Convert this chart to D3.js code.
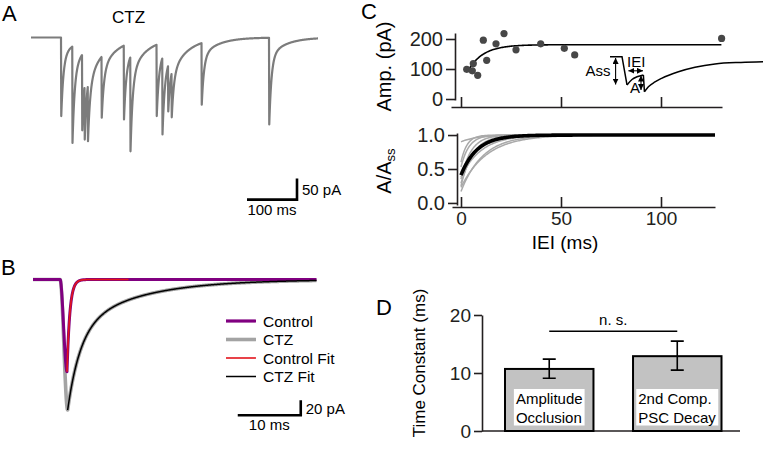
<!DOCTYPE html>
<html><head><meta charset="utf-8">
<script src="https://cdn.jsdelivr.net/npm/d3@7"></script>
<style>
html,body{margin:0;padding:0;background:#fff;}
svg{display:block;font-family:"Liberation Sans",Arial,Helvetica,sans-serif;}
</style></head><body>
<svg id="fig" width="763" height="456"></svg>
<script>
// ================= DATA =================
// Panel A: CTZ recording, event onset times (ms) and visible peak current (pA)
const aEventTimes = [60.5, 83, 102.5, 107.5, 114, 141.5, 186, 199, 251.5, 263, 274.5, 281.5, 341.5, 476.5];
const aEventPeaks = [-187, -251, -221, -243, -247, -191, -195, -271, -187, -231, -176, -190, -160, -207];
const aDecay = { fastTau: 4.5, slowTau: 32, fastWeight: 0.78 };
const aDuration = 574;                 // ms
const aScaleBarTime = [432, 532];      // ms (100 ms)
const aScaleBarAmp = [-386, -336];     // pA (50 pA)

// Panel B: averaged PSCs (ms, pA) and exponential fits
const bDuration = 45;
const bControl = { onset: 4.3, rise: 1.1, peak: -123, tau: 0.45 };
const bCTZ = { onset: 4.3, rise: 1.2, peak: -174, tau1: 2.0, w1: 0.6, tau2: 10.0 };
const bControlFitEnd = 15.2;
const bScaleBarTime = [32.5, 42.5];    // 10 ms
const bScaleBarAmp = [-181, -161];     // 20 pA
const bLegendLabels = ["Control", "CTZ", "Control Fit", "CTZ Fit"];

// Panel C (top): amplitude vs inter-event interval
const cIEI = [2.85, 5.65, 6.15, 8.35, 11.15, 12.85, 17.5, 21.5, 27.5, 39.85, 51.65, 56.85, 130.3];
const cAmp = [99, 94, 118, 79, 196, 129, 184, 218, 164, 184, 169, 147, 202];
const cFit = { start: 3.2, a0: 90, aInf: 181, tau: 7.5, end: 130.3 };
const cAmpTicks = [0, 100, 200];
const cIEITicks = [0, 50, 100];
// schematic inset (IEI units, pA units)
const insetSeg1 = [[74.5, 141], [80.5, 141], [83, 47]];
const insetSeg2 = [[83, 47], [85.5, 65], [88, 74], [91.2, 80]];
const insetSeg3 = [[91.2, 80], [91.7, 24]];
const insetSeg4 = [[91.7, 24], [93.7, 41], [97, 57], [100.3, 69], [108.7, 91], [117, 106], [127, 117], [140, 122], [151, 124]];
const insetArrowAss = [[77.3, 137], [77.3, 48]];
const insetArrowIEI = [[83.7, 94], [91, 94]];
const insetArrowA = [[90, 78], [90, 30]];

// Panel C (bottom): normalized recovery A/Ass, individual fits and mean
const grayStart = [0.90, 0.17, 0.23, 0.29, 0.35, 0.46, 0.53, 0.25, 0.38, 0.60];
const grayTau = [8, 11, 13, 7, 5, 9, 4, 6, 10, 3];
const meanStart = 0.41, meanTau = 8;
const cNormTicks = [0, 0.5, 1.0];
const cCurveEnd = 127;

// Panel D: time constants
const dCategories = ["Amplitude Occlusion", "2nd Comp. PSC Decay"];
const dLabelLines = [["Amplitude", "Occlusion"], ["2nd Comp.", "PSC Decay"]];
const dValues = [10.7, 12.9];
const dErrLow = [9.1, 10.5];
const dErrHigh = [12.4, 15.5];
const dTicks = [0, 10, 20];
const dSigLevel = 17.2;

// ================= DRAW =================
const svg = d3.select("#fig");
const FONT = '"Liberation Sans",Arial,Helvetica,sans-serif';
const AX = "#231f20";

function styleAxis(g, fs) {
  g.attr("font-size", null).attr("font-family", null);
  g.selectAll("path,line").attr("stroke", AX).attr("stroke-width", 1.6);
  g.selectAll("text").attr("font-size", fs).attr("font-family", FONT).attr("fill", AX);
}
function label(x, y, txt, fs, anchor) {
  return svg.append("text").attr("x", x).attr("y", y).attr("font-size", fs)
    .attr("text-anchor", anchor || "start").attr("fill", "#000").text(txt);
}

// panel letters
label(2, 21, "A", 22); label(1, 275, "B", 22); label(361, 19, "C", 22); label(376, 315, "D", 22);

// ---------- Panel A ----------
{
  const x = d3.scaleLinear().domain([0, aDuration]).range([31, 318]);
  const y = d3.scaleLinear().domain([0, -250]).range([37.5, 142.5]);
  const g = s => s < 0 ? 0 : aDecay.fastWeight * Math.exp(-s / aDecay.fastTau) + (1 - aDecay.fastWeight) * Math.exp(-s / aDecay.slowTau);
  const incs = [];
  aEventTimes.forEach((t, i) => {
    let resid = 0;
    for (let j = 0; j < i; j++) resid += incs[j] * g(t - aEventTimes[j]);
    incs.push(Math.min(0, aEventPeaks[i] - resid));
  });
  const pts = [];
  for (let t = 0; t <= aDuration + 1e-9; t += 0.5) {
    let v = 0;
    aEventTimes.forEach((te, j) => { v += incs[j] * g(t - te); });
    pts.push([t, v]);
  }
  svg.append("path").attr("d", d3.line().x(d => x(d[0])).y(d => y(d[1]))(pts))
    .attr("fill", "none").attr("stroke", "#7c7c7c").attr("stroke-width", 2.2).attr("stroke-linejoin", "round");
  label((x(0) + x(aDuration)) / 2 - 46, 23, "CTZ", 17, "middle");
  // scale bar
  svg.append("path").attr("d", `M${x(aScaleBarTime[0])},${y(aScaleBarAmp[0])}H${x(aScaleBarTime[1])}V${y(aScaleBarAmp[1])}`)
    .attr("fill", "none").attr("stroke", "#000").attr("stroke-width", 2.6);
  label(x(aScaleBarTime[1]) + 5, (y(aScaleBarAmp[0]) + y(aScaleBarAmp[1])) / 2 + 6, "50 pA", 15);
  label((x(aScaleBarTime[0]) + x(aScaleBarTime[1])) / 2, y(aScaleBarAmp[0]) + 15, "100 ms", 15, "middle");
}

// ---------- Panel B ----------
{
  const x = d3.scaleLinear().domain([0, bDuration]).range([33, 316.5]);
  const y = d3.scaleLinear().domain([0, -20]).range([279.5, 294.5]);
  const rise = (s, r) => { const u = Math.min(1, Math.max(0, s / r)); return u * u * (3 - 2 * u); };
  const ctrlPeakT = bControl.onset + bControl.rise, ctzPeakT = bCTZ.onset + bCTZ.rise;
  const ctrl = t => t < ctrlPeakT ? bControl.peak * rise(t - bControl.onset, bControl.rise)
    : bControl.peak * Math.exp(-(t - ctrlPeakT) / bControl.tau);
  const ctzDecay = s => bCTZ.w1 * Math.exp(-s / bCTZ.tau1) + (1 - bCTZ.w1) * Math.exp(-s / bCTZ.tau2);
  const ctz = t => t < ctzPeakT ? bCTZ.peak * rise(t - bCTZ.onset, bCTZ.rise) : bCTZ.peak * ctzDecay(t - ctzPeakT);
  const ts = d3.range(0, bDuration + 0.001, 0.05);
  const line = d3.line().x(d => x(d[0])).y(d => y(d[1]));
  svg.append("path").attr("d", line(ts.map(t => [t, ctz(t)]))).attr("fill", "none")
    .attr("stroke", "#a3a3a3").attr("stroke-width", 3.6).attr("stroke-linejoin", "round");
  svg.append("path").attr("d", line(ts.map(t => [t, ctrl(t)]))).attr("fill", "none")
    .attr("stroke", "#800080").attr("stroke-width", 3).attr("stroke-linejoin", "round");
  svg.append("path").attr("d", line(ts.filter(t => t >= ctzPeakT).map(t => [t, ctz(t)]))).attr("fill", "none")
    .attr("stroke", "#000").attr("stroke-width", 1.5);
  svg.append("path").attr("d", line(ts.filter(t => t >= ctrlPeakT && t <= bControlFitEnd).map(t => [t, ctrl(t)]))).attr("fill", "none")
    .attr("stroke", "#e3141b").attr("stroke-width", 1.6);
  // legend
  const lg = [{ c: "#800080", w: 3.2 }, { c: "#a3a3a3", w: 3.6 }, { c: "#e3141b", w: 1.6 }, { c: "#000", w: 1.5 }];
  const rows = [321, 339.5, 358, 376.5];
  bLegendLabels.forEach((lab, i) => {
    svg.append("line").attr("x1", 226).attr("x2", 256).attr("y1", rows[i]).attr("y2", rows[i])
      .attr("stroke", lg[i].c).attr("stroke-width", lg[i].w);
    label(263, rows[i] + 5.5, lab, 15.5);
  });
  // scale bar
  svg.append("path").attr("d", `M${x(bScaleBarTime[0])},${y(bScaleBarAmp[0])}H${x(bScaleBarTime[1])}V${y(bScaleBarAmp[1])}`)
    .attr("fill", "none").attr("stroke", "#000").attr("stroke-width", 2.6);
  label(x(bScaleBarTime[1]) + 5, (y(bScaleBarAmp[0]) + y(bScaleBarAmp[1])) / 2 + 6, "20 pA", 15);
  label((x(bScaleBarTime[0]) + x(bScaleBarTime[1])) / 2, y(bScaleBarAmp[0]) + 15, "10 ms", 15, "middle");
}

// ---------- Panel C top ----------
{
  const x = d3.scaleLinear().domain([-5, 130.5]).range([451, 722]);
  const y = d3.scaleLinear().domain([-3.3, 220]).range([100, 33]);
  const ya = svg.append("g").attr("transform", `translate(${x(-3)},0)`)
    .call(d3.axisLeft(y).tickValues(cAmpTicks).tickSize(9).tickSizeOuter(0).tickPadding(3));
  styleAxis(ya, 20);
  const xa = svg.append("g").attr("transform", "translate(0,107)")
    .call(d3.axisBottom(x).tickValues(cIEITicks).tickSize(-10).tickSizeOuter(0).tickFormat(""));
  styleAxis(xa, 20);
  svg.append("text").attr("transform", `translate(391,${(y(-3.3) + y(220)) / 2}) rotate(-90)`)
    .attr("text-anchor", "middle").attr("font-size", 20).text("Amp. (pA)");
  const ts = d3.range(cFit.start, cFit.end + 0.01, 0.5);
  svg.append("path").attr("d", d3.line().x(d => x(d)).y(d => y(cFit.aInf - (cFit.aInf - cFit.a0) * Math.exp(-(d - cFit.start) / cFit.tau)))(ts))
    .attr("fill", "none").attr("stroke", "#000").attr("stroke-width", 1.6);
  svg.selectAll("circle.pt").data(cIEI).enter().append("circle").attr("class", "pt")
    .attr("cx", d => x(d)).attr("cy", (d, i) => y(cAmp[i])).attr("r", 3.6).attr("fill", "#474747");
  // inset schematic
  const defs = svg.append("defs");
  defs.append("marker").attr("id", "ah").attr("viewBox", "0 0 8 8").attr("refX", 8).attr("refY", 4)
    .attr("markerWidth", 6).attr("markerHeight", 6).attr("markerUnits", "userSpaceOnUse")
    .attr("orient", "auto-start-reverse").append("path").attr("d", "M0,0L8,4L0,8z").attr("fill", "#000");
  const lin = d3.line().x(d => x(d[0])).y(d => y(d[1]));
  const mono = d3.line().x(d => x(d[0])).y(d => y(d[1])).curve(d3.curveMonotoneX);
  [[insetSeg1, lin], [insetSeg2, mono], [insetSeg3, lin], [insetSeg4, mono]].forEach(([s, f]) => {
    svg.append("path").attr("d", f(s)).attr("fill", "none").attr("stroke", "#000").attr("stroke-width", 1.5);
  });
  [insetArrowAss, insetArrowIEI, insetArrowA].forEach(a => {
    svg.append("path").attr("d", lin(a)).attr("stroke", "#000").attr("stroke-width", 1.1)
      .attr("marker-start", "url(#ah)").attr("marker-end", "url(#ah)");
  });
  svg.append("text").attr("x", x(74.8)).attr("y", y(77)).attr("text-anchor", "end").attr("font-size", 15).text("Ass");
  svg.append("text").attr("x", x(83)).attr("y", y(107)).attr("font-size", 15).text("IEI");
  svg.append("text").attr("x", x(84.5)).attr("y", y(20)).attr("font-size", 15).text("A");
}

// ---------- Panel C bottom ----------
{
  const x = d3.scaleLinear().domain([-4.5, 127]).range([452, 715]);
  const y = d3.scaleLinear().domain([-0.03, 1.03]).range([205, 133]);
  const ya = svg.append("g").attr("transform", `translate(457,0)`)
    .call(d3.axisLeft(y).tickValues(cNormTicks).tickFormat(d3.format(".1f")).tickSize(9).tickSizeOuter(0).tickPadding(3));
  styleAxis(ya, 20);
  const xa = svg.append("g").attr("transform", "translate(0,207)")
    .call(d3.axisBottom(x).tickValues(cIEITicks).tickSize(-10).tickSizeOuter(0).tickPadding(5));
  styleAxis(xa, 19);
  xa.selectAll("text").attr("dy", "0.71em");
  label((x(0) + x(127)) / 2 - 23, 249, "IEI (ms)", 19, "middle");
  const yl = svg.append("text").attr("transform", `translate(391,171) rotate(-90)`).attr("text-anchor", "middle").attr("font-size", 20);
  yl.append("tspan").text("A/A");
  yl.append("tspan").attr("font-size", 13).attr("dy", 4).text("ss");
  const ts = d3.range(0, cCurveEnd + 0.01, 0.5);
  const ln = d3.line().x(d => x(d[0])).y(d => y(d[1]));
  grayStart.forEach((v0, i) => {
    svg.append("path").attr("d", ln(ts.map(t => [t, 1 - (1 - v0) * Math.exp(-t / grayTau[i])])))
      .attr("fill", "none").attr("stroke", "#a9a9a9").attr("stroke-width", 1.5);
  });
  svg.append("path").attr("d", ln(ts.map(t => [t, 1 - (1 - meanStart) * Math.exp(-t / meanTau)])))
    .attr("fill", "none").attr("stroke", "#000").attr("stroke-width", 3.6);
}

// ---------- Panel D ----------
{
  const x = d3.scaleBand().domain(dCategories).range([505, 721.5]).paddingInner(0.309).paddingOuter(0);
  const y = d3.scaleLinear().domain([0, 20]).range([431, 315]);
  const ya = svg.append("g").attr("transform", "translate(482,0)")
    .call(d3.axisLeft(y).tickValues(dTicks).tickSize(8).tickSizeOuter(0).tickPadding(3));
  styleAxis(ya, 19);
  svg.append("line").attr("x1", 482).attr("x2", 740).attr("y1", y(0)).attr("y2", y(0)).attr("stroke", AX).attr("stroke-width", 1.6);
  svg.append("text").attr("transform", `translate(425,363) rotate(-90)`).attr("text-anchor", "middle").attr("font-size", 17).text("Time Constant (ms)");
  dCategories.forEach((c, i) => {
    svg.append("rect").attr("x", x(c)).attr("y", y(dValues[i])).attr("width", x.bandwidth()).attr("height", y(0) - y(dValues[i]))
      .attr("fill", "#c2c2c2").attr("stroke", "#000").attr("stroke-width", 2);
    const cx = x(c) + x.bandwidth() / 2;
    const grp = svg.append("g");
    const bg = grp.append("rect").attr("fill", "#fff");
    const tx = grp.append("text").attr("font-size", 15).attr("fill", "#000");
    dLabelLines[i].forEach((l, k) => tx.append("tspan").attr("x", 0).attr("y", 404 + k * 18.5).text(l));
    const bb = tx.node().getBBox();
    const left = cx - bb.width / 2;
    tx.attr("transform", `translate(${left},0)`);
    bg.attr("x", left - 2).attr("y", bb.y - 1).attr("width", bb.width + 4).attr("height", bb.height + 1);
    // error bar
    const eb = `M${cx},${y(dErrLow[i])}V${y(dErrHigh[i])}M${cx - 6.5},${y(dErrLow[i])}H${cx + 6.5}M${cx - 6.5},${y(dErrHigh[i])}H${cx + 6.5}`;
    svg.append("path").attr("d", eb).attr("stroke", "#000").attr("stroke-width", 1.6).attr("fill", "none");
  });
  const c0 = x(dCategories[0]) + x.bandwidth() / 2, c1 = x(dCategories[1]) + x.bandwidth() / 2;
  svg.append("line").attr("x1", c0).attr("x2", c1).attr("y1", y(dSigLevel)).attr("y2", y(dSigLevel)).attr("stroke", "#000").attr("stroke-width", 1.4);
  label((c0 + c1) / 2, y(dSigLevel) - 6, "n. s.", 15, "middle");
}
</script>
</body></html>
